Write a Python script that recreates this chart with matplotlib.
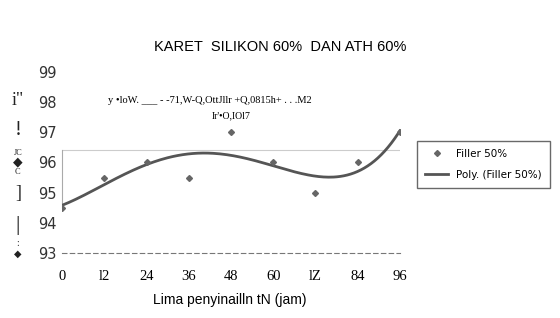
import numpy as np
import matplotlib.pyplot as plt

# data
jam = [0, 12, 24, 36, 48, 60, 72, 84, 96]
filler50 = [94.5, 95.5, 96.0, 95.5, 97.0, 96.0, 95.0, 96.0, 97.0]
xtick_labels = ["0", "l2", "24", "36", "48", "60", "lZ", "84", "96"]
yticks = [93, 94, 95, 96, 97, 98, 99]

fig = plt.figure(figsize=(5.6, 3.18), dpi=100)
ax = fig.add_axes([0.111, 0.204, 0.603, 0.57])

# poly trendline (4th order) of the series
coef = np.polyfit(jam, filler50, 4)
xs = np.linspace(0, 96, 200)
ax.plot(jam, filler50, ls="none", marker="D", ms=3, color="#666666",
        zorder=4, label="Filler 50%")
ax.plot(xs, np.polyval(coef, xs), color="#555555", lw=2.0, zorder=3,
        label="Poly. (Filler 50%)")

ax.set_xlim(0, 96)
ax.set_ylim(93, 99)
ax.set_yticks(yticks)
ax.set_xticks(jam)
ax.set_xticklabels(xtick_labels, family="Liberation Serif", fontsize=10.5)
ax.tick_params(axis="x", length=0, pad=12)
ax.tick_params(axis="y", length=0, pad=4, labelsize=10.5, labelcolor="#333333")

for s in ["top", "right"]:
    ax.spines[s].set_visible(False)
ax.spines["left"].set_bounds(94.5, 96.4)
ax.spines["left"].set_color("#aaaaaa")
ax.spines["bottom"].set_linestyle((0, (4, 3)))
ax.spines["bottom"].set_color("#777777")
ax.axhline(96.4, color="#cccccc", lw=0.8, zorder=1)

# trendline equation as it appears on the scan
ax.text(42, 98.05, "y \u2022loW. ___ - -71,W-Q,OttJllr +Q,0815h+ . . .M2",
        family="Liberation Serif", fontsize=7.5, ha="center", va="center")
ax.text(48, 97.55, "Ir'\u2022O,IOl7", family="Liberation Serif", fontsize=7,
        ha="center", va="center")

fig.text(0.5, 0.852, "KARET  SILIKON 60%  DAN ATH 60%", ha="center",
         va="center", family="Liberation Sans", fontsize=10.5)
fig.text(0.41, 0.045, "Lima penyinailln tN (jam)", ha="center",
         family="Liberation Sans", fontsize=10)

# garbled y-axis label on the left
for txt, yy, fs in [("i\"", 0.685, 13), ("!", 0.59, 15), ("JC", 0.52, 6),
                    ("\u25c6", 0.49, 9), ("C", 0.46, 6), ("]", 0.39, 13),
                    ("|", 0.29, 16), (":", 0.235, 7), ("\u25c6", 0.2, 7)]:
    fig.text(0.032, yy, txt, ha="center", va="center", fontsize=fs,
             family=["Liberation Serif", "DejaVu Sans"], color="#222222")

ax.legend(loc="center left", bbox_to_anchor=(1.035, 0.49), frameon=True,
          fancybox=False, edgecolor="#444444", fontsize=7.5,
          handlelength=2.2, borderpad=0.8, labelspacing=1.0)

fig.savefig("out.png", dpi=100)
